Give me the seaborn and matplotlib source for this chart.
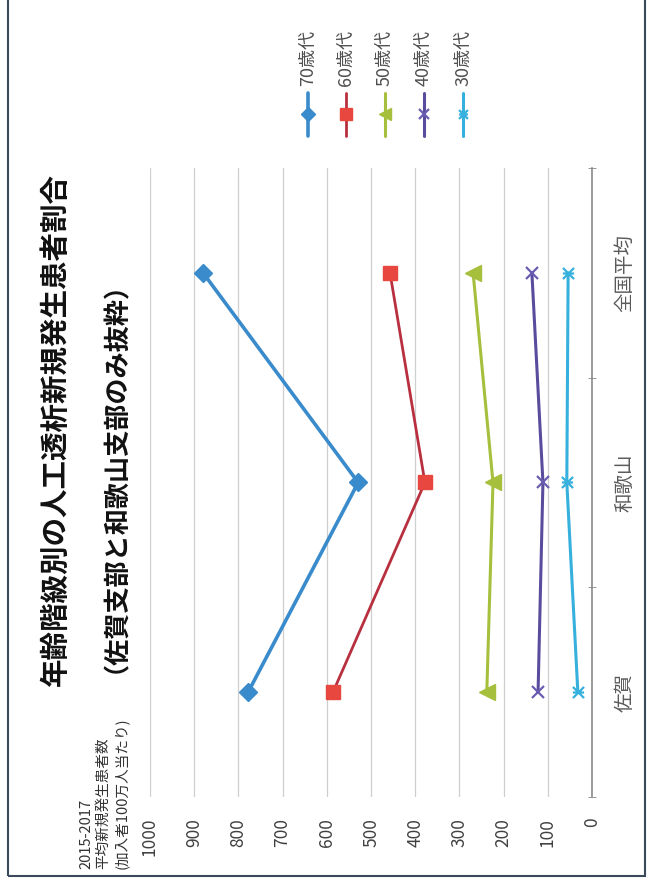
import matplotlib
matplotlib.use("Agg")
import matplotlib.pyplot as plt
from matplotlib.lines import Line2D
from matplotlib.patches import Rectangle
from matplotlib.path import Path
from matplotlib.ticker import FixedLocator
import seaborn as sns

# ---------------- data ----------------
categories = ["佐賀", "和歌山", "全国平均"]
series_names = ["70歳代", "60歳代", "50歳代", "40歳代", "30歳代"]
v70 = [778, 529, 880]
v60 = [586, 378, 457]
v50 = [238, 224, 269]
v40 = [122, 111, 136]
v30 = [32, 57, 54]
value_ticks = [0, 100, 200, 300, 400, 500, 600, 700, 800, 900, 1000]
title1 = "年齢階級別の人工透析新規発生患者割合"
title2 = "（佐賀支部と和歌山支部のみ抜粋）"
axis_title = "2015-2017\n平均新規発生患者数\n(加入者100万人当たり)"

# ---------------- style ----------------
sns.set_style("white")
plt.rcParams["font.family"] = ["Noto Sans CJK JP", "DejaVu Sans"]

W, H = 649, 880
fig = plt.figure(figsize=(W / 100, H / 100), dpi=100)

def fx(px):
    return px / W

def fy(py):
    return 1 - py / H

star = Path([(-1, -1), (1, 1), (-1, 1), (1, -1), (-1, 0), (1, 0)],
            [Path.MOVETO, Path.LINETO] * 3)

styles = [
    dict(color="#3a8bcc", marker="D", ms=9, mfc="#3a8bcc", mec="#3a8bcc", mew=1, lw=2.6),
    dict(color="#b8303f", marker="s", ms=10, mfc="#e8473f", mec="#e8473f", mew=1, lw=2.0),
    dict(color="#a6bf3c", marker="<", ms=11, mfc="#a6bf3c", mec="#a6bf3c", mew=1, lw=2.2),
    dict(color="#5a4c9c", marker="x", ms=9, mfc="none", mec="#6a5cb0", mew=1.6, lw=2.2),
    dict(color="#36b0dc", marker=star, ms=8, mfc="none", mec="#36b0dc", mew=1.6, lw=2.2),
]
values = [v70, v60, v50, v40, v30]
positions = list(range(len(categories)))

ax = fig.add_axes([fx(150), fy(797), fx(592) - fx(150), fy(168) - fy(797)])
ax.set_axisbelow(True)

for vals, st in zip(values, styles):
    st = dict(st)
    sns.lineplot(x=vals, y=positions, orient="y", sort=False, estimator=None,
                 ax=ax, color=st.pop("color"), marker=st.pop("marker"),
                 markersize=st.pop("ms"), markerfacecolor=st.pop("mfc"),
                 markeredgecolor=st.pop("mec"), markeredgewidth=st.pop("mew"),
                 linewidth=st.pop("lw"), zorder=3)

ax.set_xlim(1000, 0)
ax.set_ylim(-0.5, 2.5)
ax.xaxis.set_major_locator(FixedLocator(value_ticks))
ax.set_xticklabels([str(v) for v in value_ticks], rotation=90,
                   fontsize=12.5, color="#404040")
ax.tick_params(axis="x", length=0, pad=15)
ax.grid(axis="x", color="#cfcfcf", lw=0.9)
ax.grid(axis="y", visible=False)

ax.yaxis.tick_right()
ax.set_yticks(positions)
ax.set_yticklabels(categories, rotation=90, fontsize=14, color="#5a5a5a",
                   va="center")
ax.tick_params(axis="y", which="major", length=0, pad=16)
ax.yaxis.set_minor_locator(FixedLocator([-0.5, 0.5, 1.5, 2.5]))
ax.tick_params(axis="y", which="minor", length=6, direction="inout",
               color="#888888", right=True, left=False)
ax.set_xlabel("")
ax.set_ylabel("")
for s in ["top", "bottom", "left"]:
    ax.spines[s].set_visible(False)
ax.spines["right"].set_color("#8a8a8a")
ax.spines["right"].set_linewidth(1.2)

# titles
fig.text(fx(56), fy(430), title1, rotation=90, ha="center", va="center",
         fontsize=20.5, fontweight="bold", color="#111111")
fig.text(fx(103), fy(464), title2, rotation=90, ha="center", va="center",
         fontsize=18.8, fontweight="bold", color="#111111")
fig.text(fx(104), fy(869), axis_title, rotation=90, ha="center", va="bottom",
         multialignment="left", fontsize=10.5, color="#333333", linespacing=1.3)

# legend (rotated, manual)
leg_x = [308, 346, 385, 424, 463]
for x, name, st in zip(leg_x, series_names, styles):
    fig.add_artist(Line2D([fx(x)] * 3, [fy(136), fy(114), fy(93)],
                          transform=fig.transFigure, color=st["color"],
                          lw=st["lw"], marker=st["marker"], markevery=[1],
                          ms=st["ms"] * 0.8, mfc=st["mfc"], mec=st["mec"],
                          mew=st["mew"]))
    fig.text(fx(x), fy(86), name, rotation=90, ha="center", va="bottom",
             fontsize=13, color="#505050")

# outer frame
fig.add_artist(Rectangle((fx(8), fy(876)), fx(645) - fx(8), 1.2,
                         transform=fig.transFigure, fill=False,
                         edgecolor="#3a4a5a", lw=1.5))

fig.savefig("out.png", dpi=100, facecolor="white")
